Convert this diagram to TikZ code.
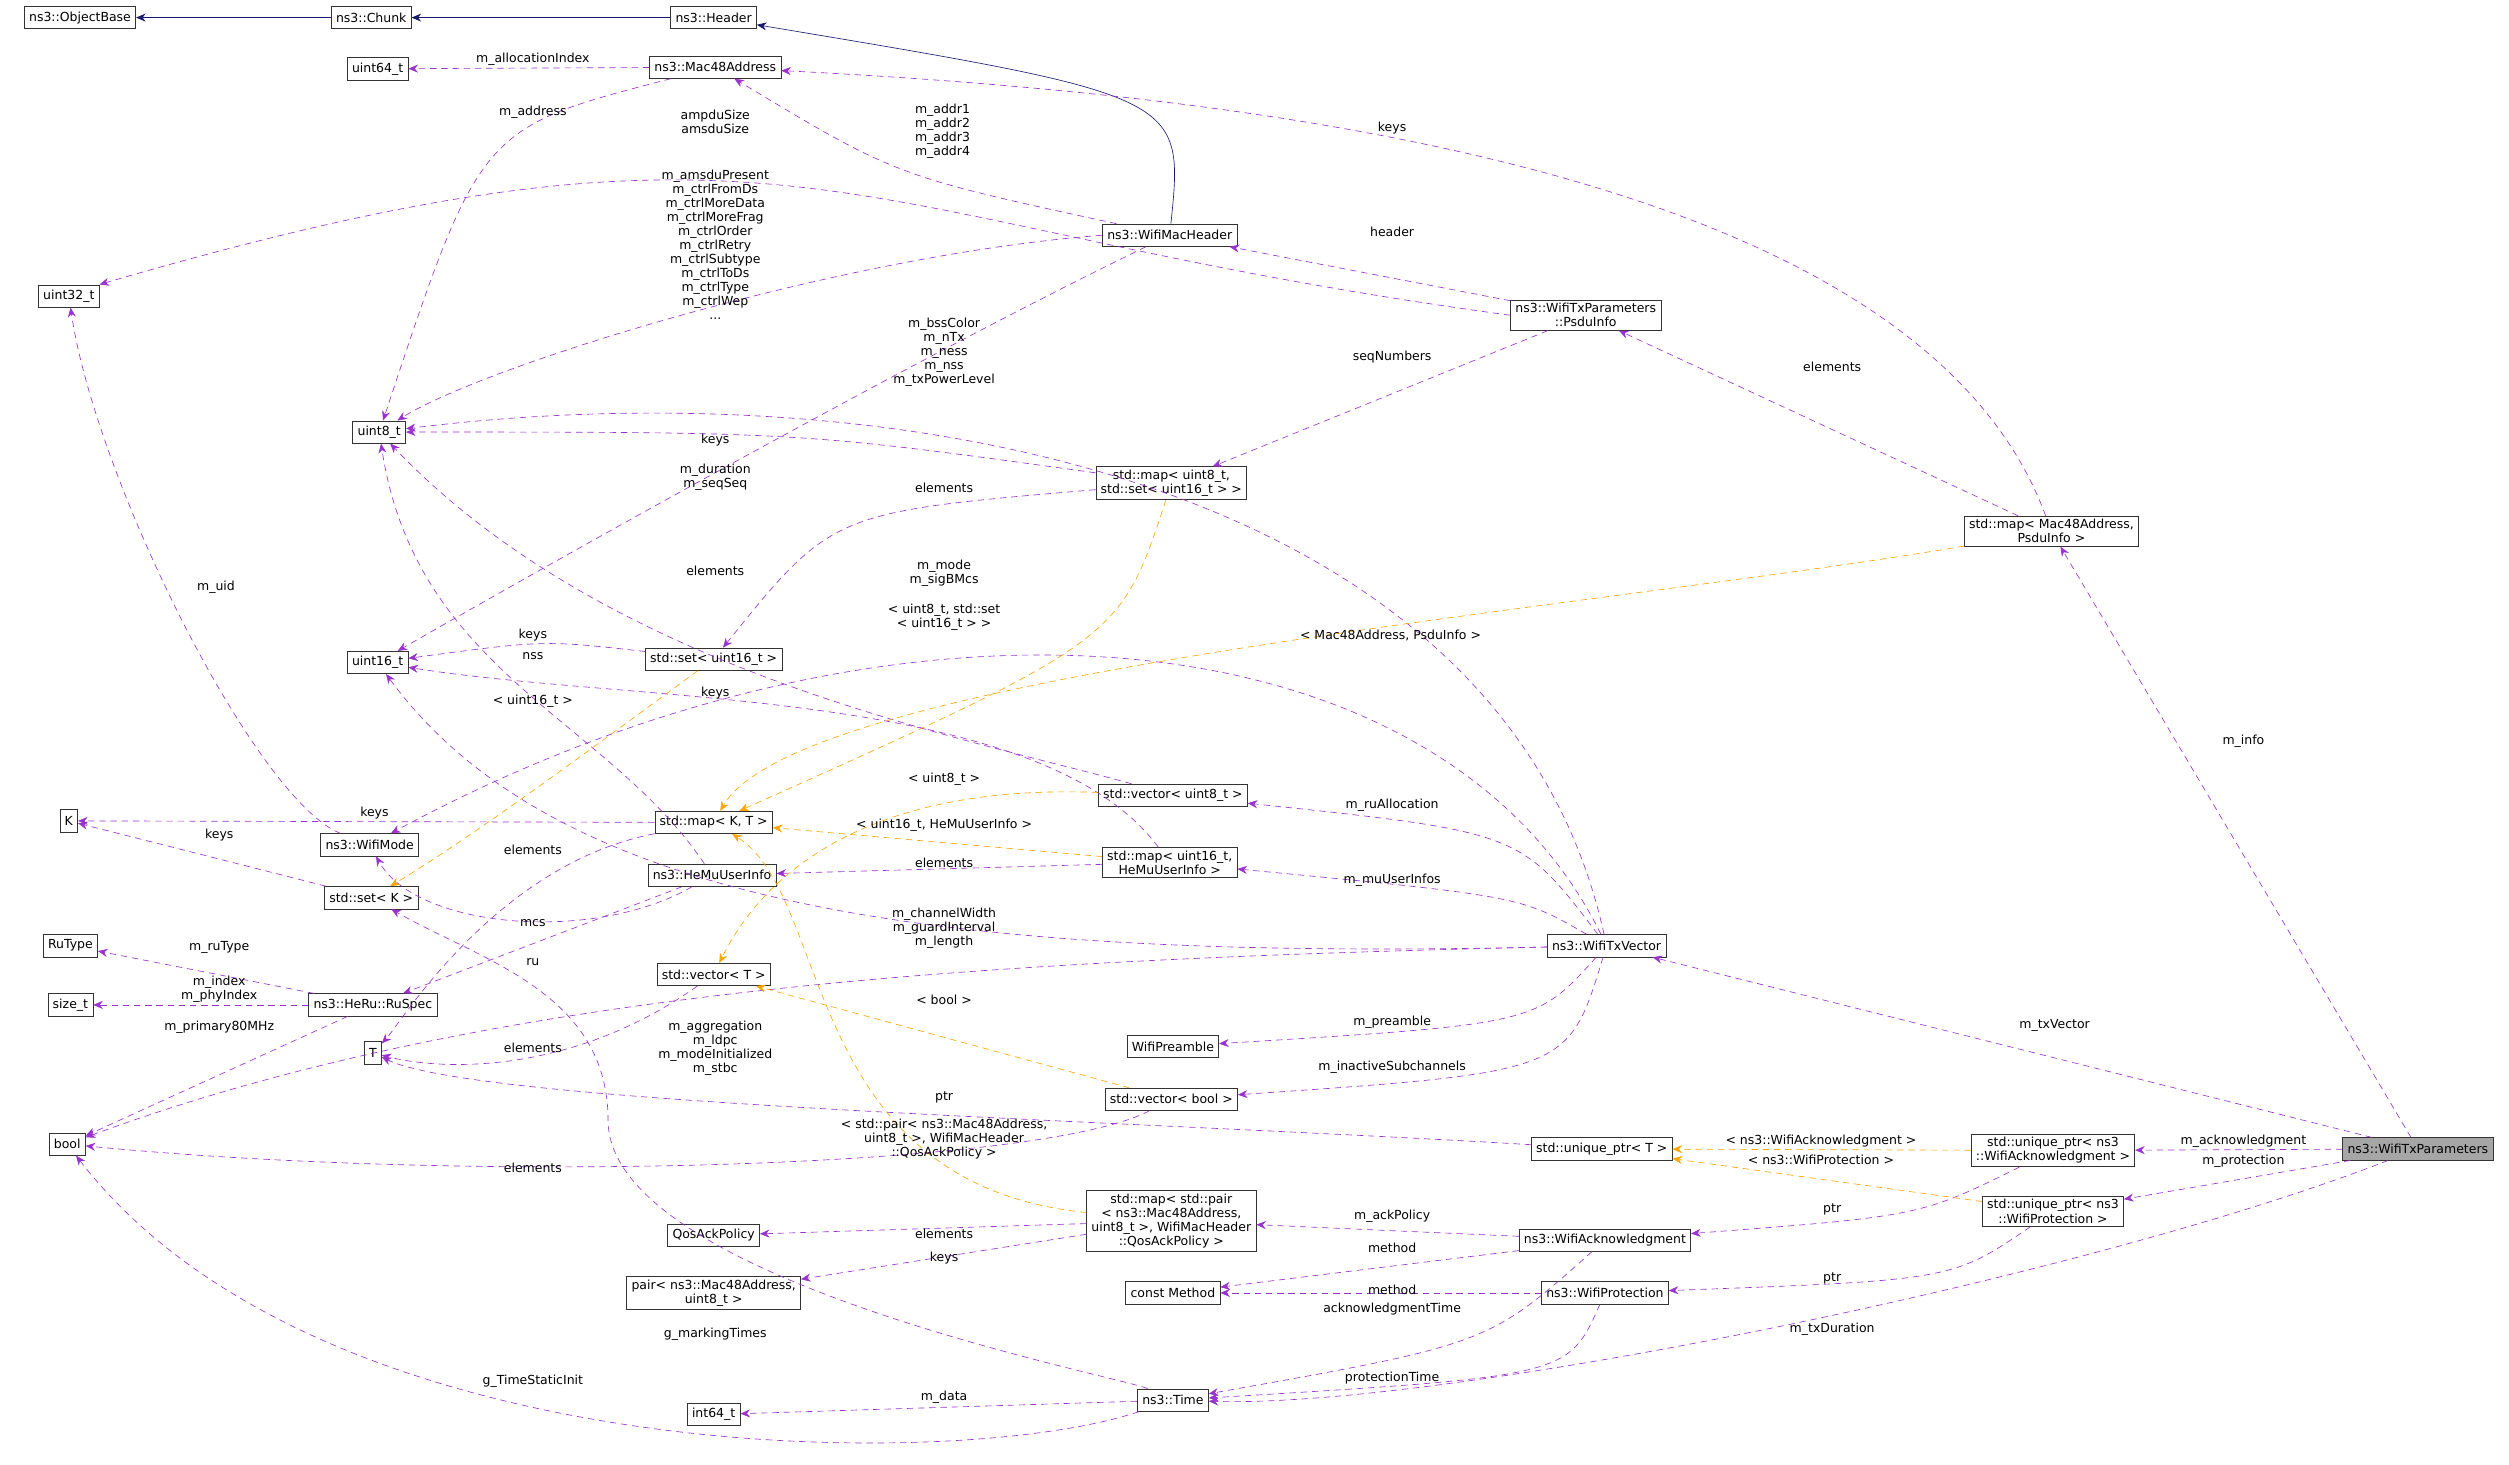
\documentclass[tikz,border=0pt]{standalone}
\usepackage{fontspec}
\setmainfont{DejaVu Sans}
\usetikzlibrary{arrows.meta}
\definecolor{pur}{HTML}{9A32CD}
\definecolor{org}{HTML}{FFA500}
\definecolor{nav}{HTML}{191970}
\begin{document}
\begin{tikzpicture}[x=1pt,y=-1pt,
  box/.style={draw=black!80,fill=white,font=\fontsize{7.8}{8.8}\selectfont,inner xsep=3pt,inner ysep=2pt,minimum height=14pt,align=center},
  lbl/.style={font=\fontsize{7.8}{8.8}\selectfont,align=center,inner sep=0pt},
  pe/.style={draw=pur,dash pattern=on 4pt off 3pt,-{Stealth[length=6pt,width=5pt,fill=pur]}},
  oe/.style={draw=org,dash pattern=on 4pt off 3pt,-{Stealth[length=6pt,width=5pt,fill=org]}},
  ne/.style={draw=nav,-{Stealth[length=6pt,width=5pt,fill=nav]}}]
\useasboundingbox (0,0) rectangle (1568,915.5);
% nodes
\node[box] (objb) at (50,11) {ns3::ObjectBase};
\node[box] (chunk) at (232,11) {ns3::Chunk};
\node[box] (header) at (446,11) {ns3::Header};
\node[box] (mac) at (447,42) {ns3::Mac48Address};
\node[box] (u64) at (236,43) {uint64\_t};
\node[box] (u32) at (43,185) {uint32\_t};
\node[box] (u8) at (237,270) {uint8\_t};
\node[box] (wmh) at (731,147) {ns3::WifiMacHeader};
\node[box] (psdu) at (991,197) {ns3::WifiTxParameters\\::PsduInfo};
\node[box] (mapu8) at (732,302) {std::map< uint8\_t,\\std::set< uint16\_t > >};
\node[box] (mapmac) at (1282,332) {std::map< Mac48Address,\\PsduInfo >};
\node[box] (u16) at (236,414) {uint16\_t};
\node[box] (setu16) at (446,412) {std::set< uint16\_t >};
\node[box] (K) at (43,513) {K};
\node[box] (wmode) at (231,528) {ns3::WifiMode};
\node[box] (mapKT) at (446,514) {std::map< K, T >};
\node[box] (vecu8) at (733,497) {std::vector< uint8\_t >};
\node[box] (maphemu) at (731,539) {std::map< uint16\_t,\\HeMuUserInfo >};
\node[box] (hemu) at (445,547) {ns3::HeMuUserInfo};
\node[box] (setK) at (232,561) {std::set< K >};
\node[box] (rutype) at (44,591) {RuType};
\node[box] (txv) at (1004,591) {ns3::WifiTxVector};
\node[box] (vecT) at (446,609) {std::vector< T >};
\node[box] (sizet) at (44,628) {size\_t};
\node[box] (ruspec) at (233,628) {ns3::HeRu::RuSpec};
\node[box] (T) at (233,658) {T};
\node[box] (pre) at (733,654) {WifiPreamble};
\node[box] (vecb) at (732,687) {std::vector< bool >};
\node[box] (bool) at (42,715) {bool};
\node[box] (uniqT) at (1001,718) {std::unique\_ptr< T >};
\node[box] (uniqA) at (1283,719) {std::unique\_ptr< ns3\\::WifiAcknowledgment >};
\node[box,fill=black!35] (txp) at (1511,718) {ns3::WifiTxParameters};
\node[box] (uniqP) at (1283,757) {std::unique\_ptr< ns3\\::WifiProtection >};
\node[box] (mappair) at (732,763) {std::map< std::pair\\< ns3::Mac48Address,\\uint8\_t >, WifiMacHeader\\::QosAckPolicy >};
\node[box] (qos) at (446,772) {QosAckPolicy};
\node[box] (wack) at (1003,775) {ns3::WifiAcknowledgment};
\node[box] (pairm) at (446,808) {pair< ns3::Mac48Address,\\uint8\_t >};
\node[box] (cm) at (733,808) {const Method};
\node[box] (wprot) at (1003,808) {ns3::WifiProtection};
\node[box] (time) at (733,875) {ns3::Time};
\node[box] (i64) at (446,884) {int64\_t};
% inheritance
\draw[ne] (chunk) -- (objb);
\draw[ne] (header) -- (chunk);
\draw[ne] (wmh) .. controls (740,60) .. (header);
% purple
\draw[pe] (mac) -- (u64); \node[lbl] (l1) at (333,37) {m\_allocationIndex};
\draw[pe] (mac) .. controls (300,80) .. (u8); \node[lbl] (l2) at (333,70) {m\_address};
\draw[pe] (wmh) .. controls (560,110) .. (mac); \node[lbl] (l3) at (589,82) {m\_addr1\\m\_addr2\\m\_addr3\\m\_addr4};
\draw[pe] (wmh.west) .. controls (520,160) and (300,230) .. (u8); \node[lbl] (l4) at (447,153) {m\_amsduPresent\\m\_ctrlFromDs\\m\_ctrlMoreData\\m\_ctrlMoreFrag\\m\_ctrlOrder\\m\_ctrlRetry\\m\_ctrlSubtype\\m\_ctrlToDs\\m\_ctrlType\\m\_ctrlWep\\...};
\draw[pe] (wmh) .. controls (560,230) and (330,360) .. (u16); \node[lbl] (l5) at (447,298) {m\_duration\\m\_seqSeq};
\draw[pe] (psdu) -- (wmh); \node[lbl] (l6) at (870,145) {header};
\draw[pe] (psdu.west) .. controls (520,140) and (500,50) .. (u32.north east); \node[lbl] (l7) at (447,76) {ampduSize\\amsduSize};
\draw[pe] (psdu) -- (mapu8); \node[lbl] (l8) at (870,223) {seqNumbers};
\draw[pe] (mapu8) .. controls (500,270) .. (u8); \node[lbl] (l9) at (447,275) {keys};
\draw[pe] (mapu8) .. controls (520,320) .. (setu16); \node[lbl] (l10) at (590,305) {elements};
\draw[pe] (mapmac) .. controls (1200,110) and (800,60) .. (mac); \node[lbl] (l11) at (870,80) {keys};
\draw[pe] (mapmac) -- (psdu); \node[lbl] (l12) at (1145,229) {elements};
\draw[pe] (txp) -- (mapmac); \node[lbl] (l13) at (1402,463) {m\_info};
\draw[pe] (txv) .. controls (940,300) and (560,230) .. (u8); \node[lbl] (l14) at (590,220) {m\_bssColor\\m\_nTx\\m\_ness\\m\_nss\\m\_txPowerLevel};
\draw[pe] (txv) .. controls (900,380) and (560,350) .. (wmode); \node[lbl] (l15) at (590,358) {m\_mode\\m\_sigBMcs};
\draw[pe] (wmode) .. controls (160,500) and (60,300) .. (u32); \node[lbl] (l16) at (135,367) {m\_uid};
\draw[pe] (setu16) .. controls (340,400) .. (u16); \node[lbl] (l17) at (333,397) {keys};
\draw[pe] (mapKT) -- (K); \node[lbl] (l18) at (234,508) {keys};
\draw[pe] (setK) -- (K); \node[lbl] (l19) at (137,522) {keys};
\draw[pe] (mapKT) .. controls (310,540) and (250,640) .. (T); \node[lbl] (l20) at (333,531) {elements};
\draw[pe] (vecu8) .. controls (600,460) and (380,420) .. (u8); \node[lbl] (l21) at (447,357) {elements};
\draw[pe] (maphemu) .. controls (650,430) and (400,440) .. (u16); \node[lbl] (l22) at (447,433) {keys};
\draw[pe] (maphemu) -- (hemu); \node[lbl] (l23) at (590,539) {elements};
\draw[pe] (hemu) .. controls (380,450) and (260,420) .. (u8); \node[lbl] (l24) at (333,410) {nss};
\draw[pe] (hemu) .. controls (370,590) and (260,580) .. (wmode); \node[lbl] (l25) at (333,577) {mcs};
\draw[pe] (hemu) -- (ruspec); \node[lbl] (l26) at (333,601) {ru};
\draw[pe] (ruspec) -- (rutype); \node[lbl] (l27) at (137,592) {m\_ruType};
\draw[pe] (ruspec) -- (sizet); \node[lbl] (l28) at (137,618) {m\_index\\m\_phyIndex};
\draw[pe] (ruspec) -- (bool); \node[lbl] (l29) at (137,642) {m\_primary80MHz};
\draw[pe] (txv) .. controls (950,520) .. (vecu8); \node[lbl] (l30) at (870,503) {m\_ruAllocation};
\draw[pe] (txv) .. controls (950,560) .. (maphemu); \node[lbl] (l31) at (870,550) {m\_muUserInfos};
\draw[pe] (txv) .. controls (600,600) and (350,570) .. (u16); \node[lbl] (l32) at (590,580) {m\_channelWidth\\m\_guardInterval\\m\_length};
\draw[pe] (txv) .. controls (600,600) and (300,620) .. (bool); \node[lbl] (l33) at (447,655) {m\_aggregation\\m\_ldpc\\m\_modeInitialized\\m\_stbc};
\draw[pe] (txv) .. controls (960,640) .. (pre); \node[lbl] (l34) at (870,639) {m\_preamble};
\draw[pe] (txv) .. controls (980,670) .. (vecb); \node[lbl] (l35) at (870,667) {m\_inactiveSubchannels};
\draw[pe] (vecT) .. controls (360,670) and (280,670) .. (T); \node[lbl] (l36) at (333,655) {elements};
\draw[pe] (vecb) .. controls (650,730) and (300,740) .. (bool); \node[lbl] (l37) at (333,730) {elements};
\draw[pe] (uniqT) .. controls (700,700) and (300,690) .. (T); \node[lbl] (l38) at (590,686) {ptr};
\draw[pe] (txp) -- (txv); \node[lbl] (l39) at (1284,641) {m\_txVector};
\draw[pe] (txp) -- (uniqA); \node[lbl] (l40) at (1402,713) {m\_acknowledgment};
\draw[pe] (txp) -- (uniqP); \node[lbl] (l41) at (1402,726) {m\_protection};
\draw[pe] (txp) .. controls (1300,800) and (900,880) .. (time); \node[lbl] (l42) at (1145,831) {m\_txDuration};
\draw[pe] (uniqA) .. controls (1200,760) .. (wack); \node[lbl] (l43) at (1145,756) {ptr};
\draw[pe] (uniqP) .. controls (1220,800) .. (wprot); \node[lbl] (l44) at (1145,799) {ptr};
\draw[pe] (wack) -- (mappair); \node[lbl] (l45) at (870,760) {m\_ackPolicy};
\draw[pe] (wack) -- (cm); \node[lbl] (l46) at (870,780) {method};
\draw[pe] (wprot) -- (cm); \node[lbl] (l47) at (870,806) {method};
\draw[pe] (wack) .. controls (930,840) .. (time); \node[lbl] (l48) at (870,818) {acknowledgmentTime};
\draw[pe] (wprot) .. controls (980,860) .. (time); \node[lbl] (l49) at (870,861) {protectionTime};
\draw[pe] (mappair) -- (qos); \node[lbl] (l50) at (590,771) {elements};
\draw[pe] (mappair) -- (pairm); \node[lbl] (l51) at (590,786) {keys};
\draw[pe] (time) -- (i64); \node[lbl] (l52) at (590,873) {m\_data};
\draw[pe] (time) .. controls (600,920) and (200,920) .. (bool); \node[lbl] (l53) at (333,863) {g\_TimeStaticInit};
\draw[pe] (time) .. controls (700,860) and (380,800) .. (380,700) .. controls (380,620) and (300,600) .. (setK); \node[lbl] (l54) at (447,834) {g\_markingTimes};
% orange
\draw[oe] (setu16) .. controls (380,460) and (300,520) .. (setK); \node[lbl] (o1) at (333,438) {< uint16\_t >};
\draw[oe] (mapu8) .. controls (700,400) .. (mapKT); \node[lbl] (o2) at (590,386) {< uint8\_t, std::set\\< uint16\_t > >};
\draw[oe] (mapmac) .. controls (1000,380) and (500,420) .. (mapKT); \node[lbl] (o3) at (869,397) {< Mac48Address, PsduInfo >};
\draw[oe] (vecu8) .. controls (550,490) and (480,540) .. (vecT); \node[lbl] (o4) at (590,487) {< uint8\_t >};
\draw[oe] (maphemu) -- (mapKT); \node[lbl] (o5) at (590,516) {< uint16\_t, HeMuUserInfo >};
\draw[oe] (vecb) -- (vecT); \node[lbl] (o6) at (590,625) {< bool >};
\draw[oe] (mappair) .. controls (500,740) and (520,560) .. (mapKT); \node[lbl] (o7) at (590,712) {< std::pair< ns3::Mac48Address,\\uint8\_t >, WifiMacHeader\\::QosAckPolicy >};
\draw[oe] (uniqA) -- (uniqT); \node[lbl] (o8) at (1138,713) {< ns3::WifiAcknowledgment >};
\draw[oe] (uniqP) -- (uniqT); \node[lbl] (o9) at (1138,725) {< ns3::WifiProtection >};
\end{tikzpicture}
\end{document}
